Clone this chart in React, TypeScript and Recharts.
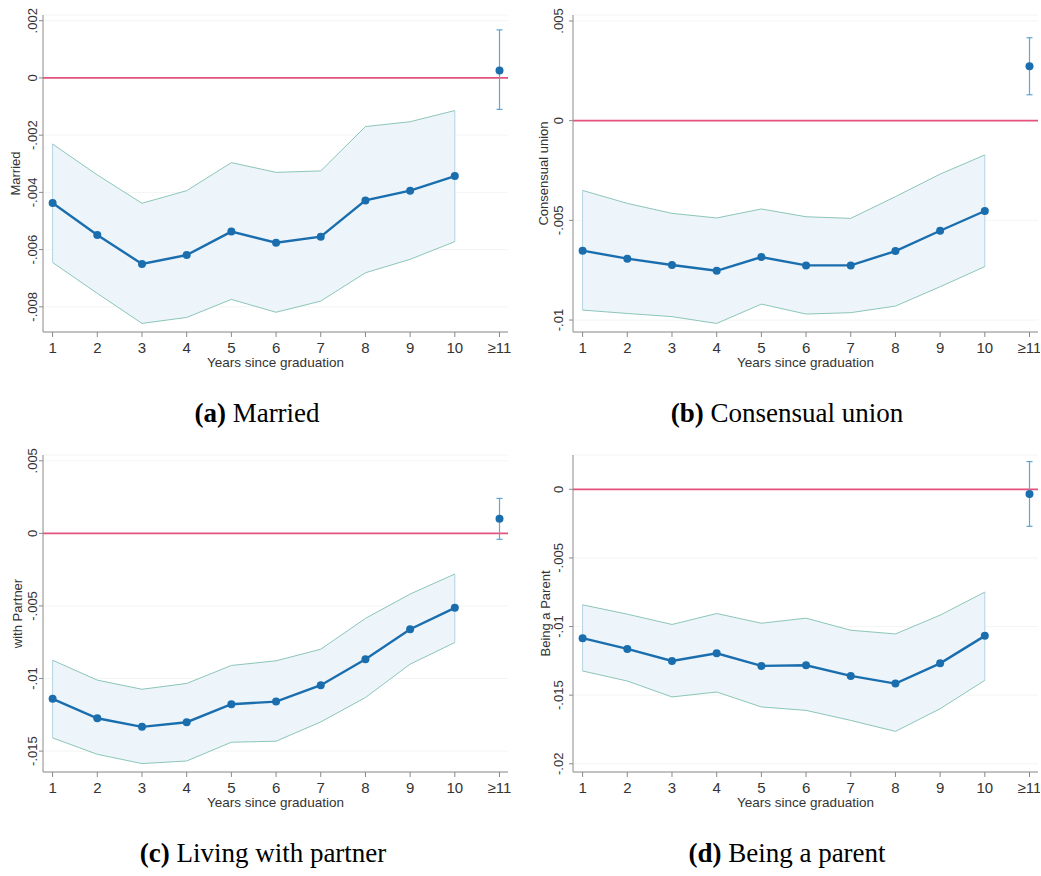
import React from 'react';
import {
  ComposedChart,
  Line,
  Area,
  XAxis,
  YAxis,
  ReferenceLine,
  ErrorBar,
  CartesianGrid,
} from 'recharts';

// ---------- data ----------
const years = [1, 2, 3, 4, 5, 6, 7, 8, 9, 10];
const xTicks = [1, 2, 3, 4, 5, 6, 7, 8, 9, 10, 11];
const xTickLabels = ['1', '2', '3', '4', '5', '6', '7', '8', '9', '10', '≥11'];
const postYear = 11;
const xAxisTitle = 'Years since graduation';

const marriedMean = [-0.00437, -0.00549, -0.0065, -0.00619, -0.00537, -0.00576, -0.00555, -0.00428, -0.00394, -0.00343];
const marriedUpper = [-0.00231, -0.00339, -0.00438, -0.00394, -0.00296, -0.0033, -0.00325, -0.0017, -0.00153, -0.00114];
const marriedLower = [-0.00645, -0.00753, -0.00858, -0.00837, -0.00774, -0.00819, -0.0078, -0.00681, -0.00634, -0.00572];
const marriedPost = [0.00026, -0.0011, 0.00168]; // estimate, lower, upper
const marriedTicks = [0.002, 0, -0.002, -0.004, -0.006, -0.008];

const consensualMean = [-0.00652, -0.00692, -0.00724, -0.00753, -0.00684, -0.00726, -0.00726, -0.00654, -0.00552, -0.00453];
const consensualUpper = [-0.0035, -0.00415, -0.00465, -0.00488, -0.00443, -0.00482, -0.0049, -0.00381, -0.00268, -0.00172];
const consensualLower = [-0.0095, -0.00967, -0.00983, -0.01017, -0.0092, -0.0097, -0.00963, -0.0093, -0.00833, -0.00732];
const consensualPost = [0.00273, 0.0013, 0.00416];
const consensualTicks = [0.005, 0, -0.005, -0.01];

const partnerMean = [-0.0114, -0.01274, -0.01333, -0.01301, -0.01177, -0.01159, -0.01046, -0.00867, -0.0066, -0.00513];
const partnerUpper = [-0.00874, -0.01011, -0.01074, -0.01034, -0.0091, -0.00878, -0.00798, -0.00586, -0.00418, -0.0028];
const partnerLower = [-0.01409, -0.01522, -0.01586, -0.01568, -0.01439, -0.01432, -0.01299, -0.01131, -0.00901, -0.00752];
const partnerPost = [0.00101, -0.00041, 0.00241];
const partnerTicks = [0.005, 0, -0.005, -0.01, -0.015];

const parentMean = [-0.01085, -0.01163, -0.01251, -0.01195, -0.01287, -0.01282, -0.0136, -0.01416, -0.01268, -0.01068];
const parentUpper = [-0.00842, -0.0091, -0.00985, -0.00905, -0.00976, -0.00939, -0.01027, -0.01054, -0.00917, -0.00749];
const parentLower = [-0.01324, -0.01397, -0.01513, -0.01477, -0.01586, -0.01611, -0.01684, -0.01764, -0.01599, -0.01392];
const parentPost = [-0.00034, -0.0027, 0.00202];
const parentTicks = [0, -0.005, -0.01, -0.015, -0.02];

// ---------- style ----------
const SANS = '"Liberation Sans", Arial, Helvetica, sans-serif';
const SERIF = '"Liberation Serif", "Times New Roman", Times, serif';
const MEAN_COLOR = '#1b6eae';
const CI_LINE = '#8cc6b8';
const CI_EDGE = '#b3d3e4';
const CI_FILL = '#edf5fb';
const ERR_COLOR = '#5ea6d3';
const ZERO_COLOR = '#e5537c';
const AXIS_COLOR = '#8a8a8a';
const TEXT_COLOR = '#333333';

const fmtY = (v: number) => {
  if (v === 0) return '0';
  const s = Math.abs(v).toString().replace(/^0/, '');
  return (v < 0 ? '-' : '') + s;
};

type PanelProps = {
  mean: number[];
  upper: number[];
  lower: number[];
  post: number[];
  ticks: number[];
  domain: [number, number];
  yTitle: string;
  yAxisWidth: number;
  yTickMargin: number;
  yTitleX: number;
  rightMargin: number;
};

const Panel = (p: PanelProps) => {
  const data = years.map((yr, i) => ({
    year: yr,
    mean: p.mean[i],
    upper: p.upper[i],
    lower: p.lower[i],
    band: [p.lower[i], p.upper[i]],
  }));
  const postData = [
    { year: postYear, post: p.post[0], err: [p.post[0] - p.post[1], p.post[2] - p.post[0]] },
  ];
  const first = 0;
  const last = years.length - 1;

  const YTick = (t: any) => {
    const { x, y, payload } = t;
    return (
      <text
        x={x}
        y={y}
        transform={`rotate(-90 ${x} ${y})`}
        textAnchor="middle"
        fontSize={13}
        fontFamily={SANS}
        fill={TEXT_COLOR}
      >
        {fmtY(payload.value)}
      </text>
    );
  };

  const XTick = (t: any) => {
    const { x, y, payload } = t;
    const idx = xTicks.indexOf(payload.value);
    return (
      <text x={x} y={y} dy="0.71em" textAnchor="middle" fontSize={15} fontFamily={SANS} fill={TEXT_COLOR}>
        {xTickLabels[idx]}
      </text>
    );
  };

  return (
    <ComposedChart
      width={520}
      height={380}
      data={data}
      margin={{ top: 15, right: p.rightMargin, left: 0, bottom: 8 }}
      style={{ overflow: 'visible' }}
    >
      <CartesianGrid vertical={false} stroke="#f3f4f5" strokeWidth={1} />
      <XAxis
        dataKey="year"
        type="number"
        domain={[0.785, 11.19]}
        ticks={xTicks}
        allowDataOverflow
        interval={0}
        height={40}
        tickSize={5}
        tickMargin={5}
        stroke={AXIS_COLOR}
        tick={<XTick />}
        label={(lp: any) => {
          const vb = lp.viewBox;
          return (
            <text
              x={vb.x + vb.width / 2}
              y={vb.y + 35}
              textAnchor="middle"
              fontSize={13.5}
              fontFamily={SANS}
              fill={TEXT_COLOR}
            >
              {xAxisTitle}
            </text>
          );
        }}
      />
      <YAxis
        type="number"
        domain={p.domain}
        ticks={p.ticks}
        allowDataOverflow
        width={p.yAxisWidth}
        tickSize={4}
        tickMargin={p.yTickMargin}
        stroke={AXIS_COLOR}
        tick={<YTick />}
        label={(lp: any) => {
          const vb = lp.viewBox;
          const cy = vb.y + vb.height / 2;
          return (
            <text
              x={p.yTitleX}
              y={cy}
              transform={`rotate(-90 ${p.yTitleX} ${cy})`}
              textAnchor="middle"
              dominantBaseline="central"
              fontSize={13}
              fontFamily={SANS}
              fill={TEXT_COLOR}
            >
              {p.yTitle}
            </text>
          );
        }}
      />
      <Area
        dataKey="band"
        type="linear"
        fill={CI_FILL}
        fillOpacity={1}
        stroke="none"
        isAnimationActive={false}
        activeDot={false}
      />
      <ReferenceLine
        segment={[
          { x: years[first], y: p.lower[first] },
          { x: years[first], y: p.upper[first] },
        ]}
        stroke={CI_EDGE}
        strokeWidth={1}
      />
      <ReferenceLine
        segment={[
          { x: years[last], y: p.lower[last] },
          { x: years[last], y: p.upper[last] },
        ]}
        stroke={CI_EDGE}
        strokeWidth={1}
      />
      <Line dataKey="upper" type="linear" stroke={CI_LINE} strokeWidth={1} dot={false} activeDot={false} isAnimationActive={false} />
      <Line dataKey="lower" type="linear" stroke={CI_LINE} strokeWidth={1} dot={false} activeDot={false} isAnimationActive={false} />
      <ReferenceLine y={0} stroke={ZERO_COLOR} strokeWidth={1.7} />
      <Line
        dataKey="mean"
        type="linear"
        stroke={MEAN_COLOR}
        strokeWidth={2.4}
        dot={{ r: 4, fill: MEAN_COLOR, stroke: MEAN_COLOR, strokeWidth: 0 }}
        activeDot={false}
        isAnimationActive={false}
      />
      <Line
        data={postData}
        dataKey="post"
        type="linear"
        stroke="none"
        dot={{ r: 4, fill: MEAN_COLOR, stroke: MEAN_COLOR, strokeWidth: 0 }}
        activeDot={false}
        isAnimationActive={false}
      >
        <ErrorBar dataKey="err" direction="y" width={3} stroke={ERR_COLOR} strokeWidth={1.2} />
      </Line>
    </ComposedChart>
  );
};

const Caption = ({ letter, text, cx, top }: { letter: string; text: string; cx: number; top: number }) => (
  <div
    style={{
      position: 'absolute',
      left: cx - 200,
      width: 400,
      top,
      textAlign: 'center',
      fontFamily: SERIF,
      fontSize: 27,
      lineHeight: '27px',
      color: '#000',
      whiteSpace: 'nowrap',
    }}
  >
    <b>({letter})</b> {text}
  </div>
);

export default function App() {
  return (
    <div
      style={{
        position: 'absolute',
        left: 0,
        top: 0,
        width: 1041,
        height: 876,
        background: '#fff',
        overflow: 'hidden',
      }}
    >
      <div style={{ position: 'absolute', left: 0, top: 0 }}>
        <Panel
          mean={marriedMean}
          upper={marriedUpper}
          lower={marriedLower}
          post={marriedPost}
          ticks={marriedTicks}
          domain={[-0.00888, 0.0022]}
          yTitle="Married"
          yAxisWidth={43}
          yTickMargin={2}
          yTitleX={15}
          rightMargin={12}
        />
      </div>
      <div style={{ position: 'absolute', left: 520, top: 0 }}>
        <Panel
          mean={consensualMean}
          upper={consensualUpper}
          lower={consensualLower}
          post={consensualPost}
          ticks={consensualTicks}
          domain={[-0.0106, 0.0053]}
          yTitle="Consensual union"
          yAxisWidth={53}
          yTickMargin={6}
          yTitleX={23}
          rightMargin={2}
        />
      </div>
      <div style={{ position: 'absolute', left: 0, top: 440 }}>
        <Panel
          mean={partnerMean}
          upper={partnerUpper}
          lower={partnerLower}
          post={partnerPost}
          ticks={partnerTicks}
          domain={[-0.01644, 0.0054]}
          yTitle="with Partner"
          yAxisWidth={43}
          yTickMargin={2}
          yTitleX={17}
          rightMargin={12}
        />
      </div>
      <div style={{ position: 'absolute', left: 520, top: 440 }}>
        <Panel
          mean={parentMean}
          upper={parentUpper}
          lower={parentLower}
          post={parentPost}
          ticks={parentTicks}
          domain={[-0.0206, 0.0025]}
          yTitle="Being a Parent"
          yAxisWidth={53}
          yTickMargin={6}
          yTitleX={25}
          rightMargin={2}
        />
      </div>
      <Caption letter="a" text="Married" cx={257} top={400} />
      <Caption letter="b" text="Consensual union" cx={787} top={400} />
      <Caption letter="c" text="Living with partner" cx={263} top={840} />
      <Caption letter="d" text="Being a parent" cx={787} top={840} />
    </div>
  );
}
